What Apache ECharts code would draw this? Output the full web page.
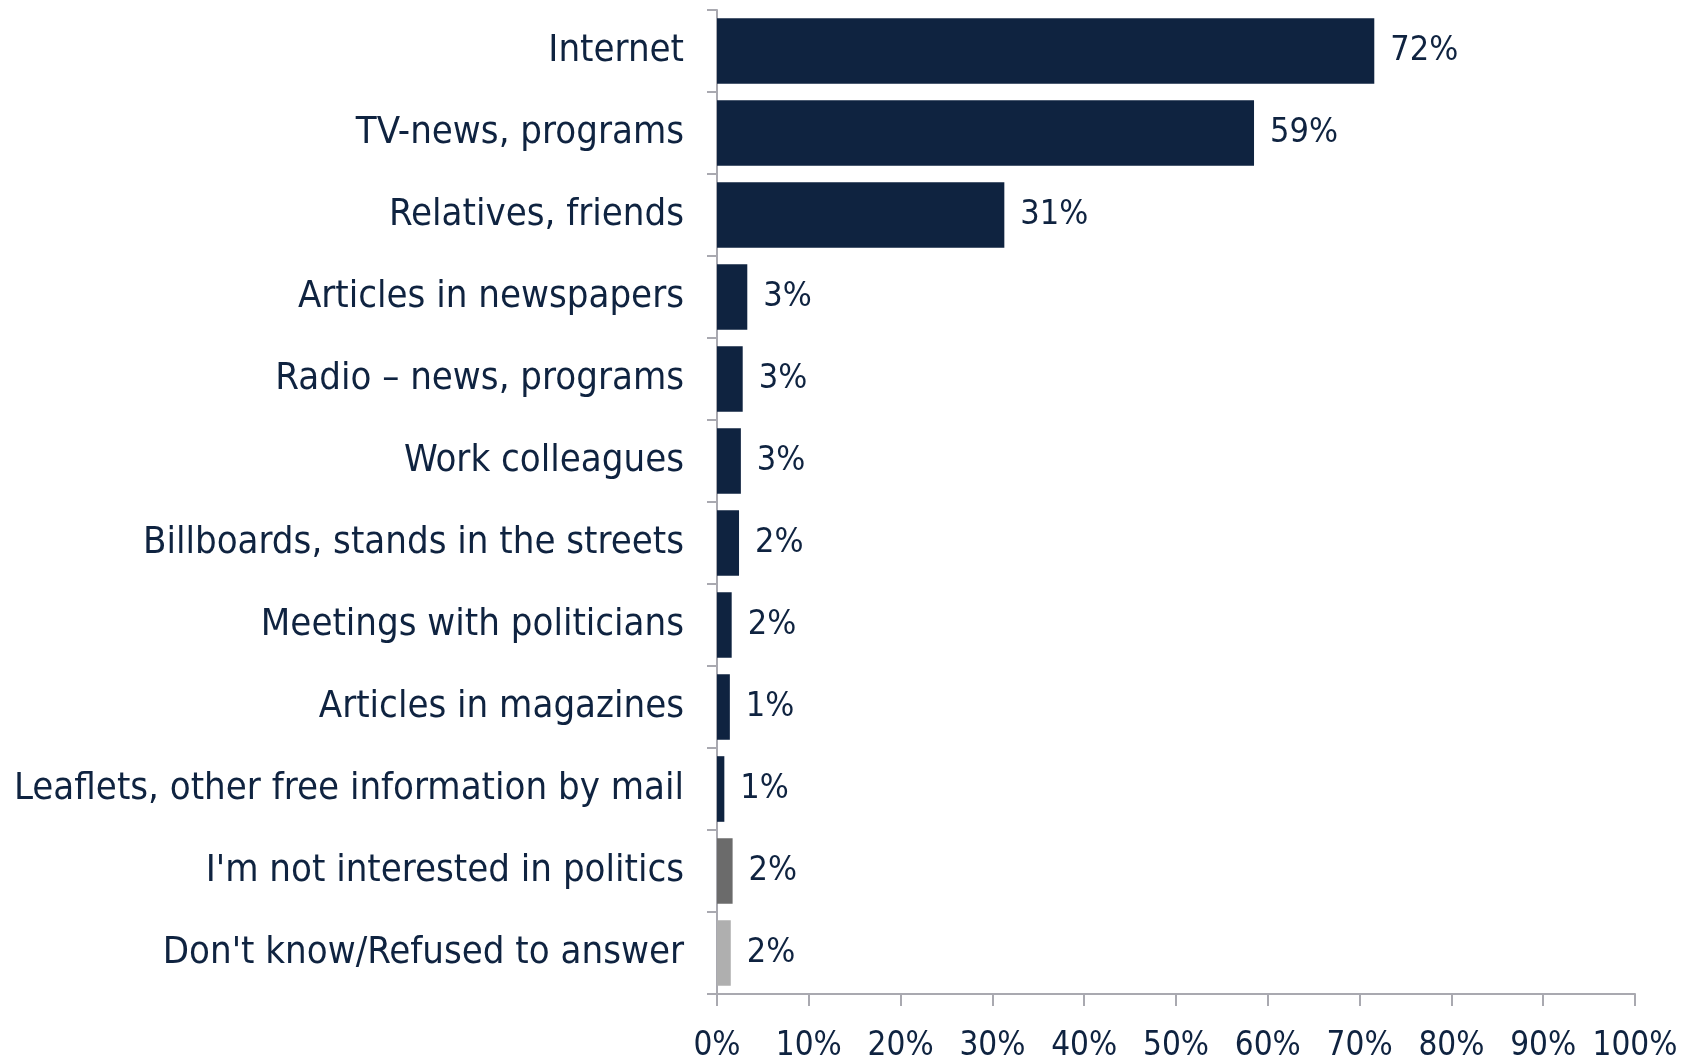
<!DOCTYPE html>
<html>
<head>
<meta charset="utf-8">
<script src="https://cdn.jsdelivr.net/npm/echarts@6/dist/echarts.min.js"></script>
<style>
  html, body { margin: 0; padding: 0; background: #fff; }
  #chart { width: 1697px; height: 1060px; }
</style>
</head>
<body>
<div id="chart"></div>
<script>
// sources of political information, share of respondents (%)
const categories = [
  'Internet',
  'TV-news, programs',
  'Relatives, friends',
  'Articles in newspapers',
  'Radio \u2013 news, programs',
  'Work colleagues',
  'Billboards, stands in the streets',
  'Meetings with politicians',
  'Articles in magazines',
  'Leaflets, other free information by mail',
  "I'm not interested in politics",
  "Don't know/Refused to answer"
];
const values = [71.6, 58.5, 31.3, 3.3, 2.8, 2.6, 2.4, 1.6, 1.4, 0.8, 1.7, 1.5];
const barColors = [
  '#0f2340', '#0f2340', '#0f2340', '#0f2340', '#0f2340', '#0f2340',
  '#0f2340', '#0f2340', '#0f2340', '#0f2340', '#6b6b6b', '#afafaf'
];
const xTicks = [0, 10, 20, 30, 40, 50, 60, 70, 80, 90, 100];

const font = '"DejaVu Sans Condensed", "DejaVu Sans", sans-serif';
const textColor = '#0f2340';
const axisColor = '#a9a9b0';

const chart = echarts.init(document.getElementById('chart'));

chart.setOption({
  animation: false,
  grid: { left: 717, right: 62, top: 10, bottom: 66, outerBoundsMode: 'none' },
  xAxis: {
    type: 'value',
    min: xTicks[0],
    max: xTicks[xTicks.length - 1],
    interval: 10,
    splitLine: { show: false },
    axisLine: { show: true, lineStyle: { color: axisColor, width: 2 } },
    axisTick: { show: true, length: 12, lineStyle: { color: axisColor, width: 2 } },
    axisLabel: {
      margin: 36,
      color: textColor,
      fontFamily: font,
      fontSize: 33,
      formatter: '{value}%'
    }
  },
  yAxis: {
    type: 'category',
    inverse: true,
    data: categories,
    axisLine: { show: true, lineStyle: { color: axisColor, width: 2 } },
    axisTick: { show: true, length: 10, lineStyle: { color: axisColor, width: 2 } },
    axisLabel: {
      margin: 33,
      color: textColor,
      fontFamily: font,
      fontSize: 38
    }
  },
  series: [{
    type: 'bar',
    barCategoryGap: '20%',
    data: values.map((v, i) => ({ value: v, itemStyle: { color: barColors[i] } })),
    label: {
      show: true,
      position: 'right',
      distance: 16,
      color: textColor,
      fontFamily: font,
      fontSize: 34,
      formatter: p => Math.round(p.value) + '%'
    }
  }]
});
</script>
</body>
</html>
